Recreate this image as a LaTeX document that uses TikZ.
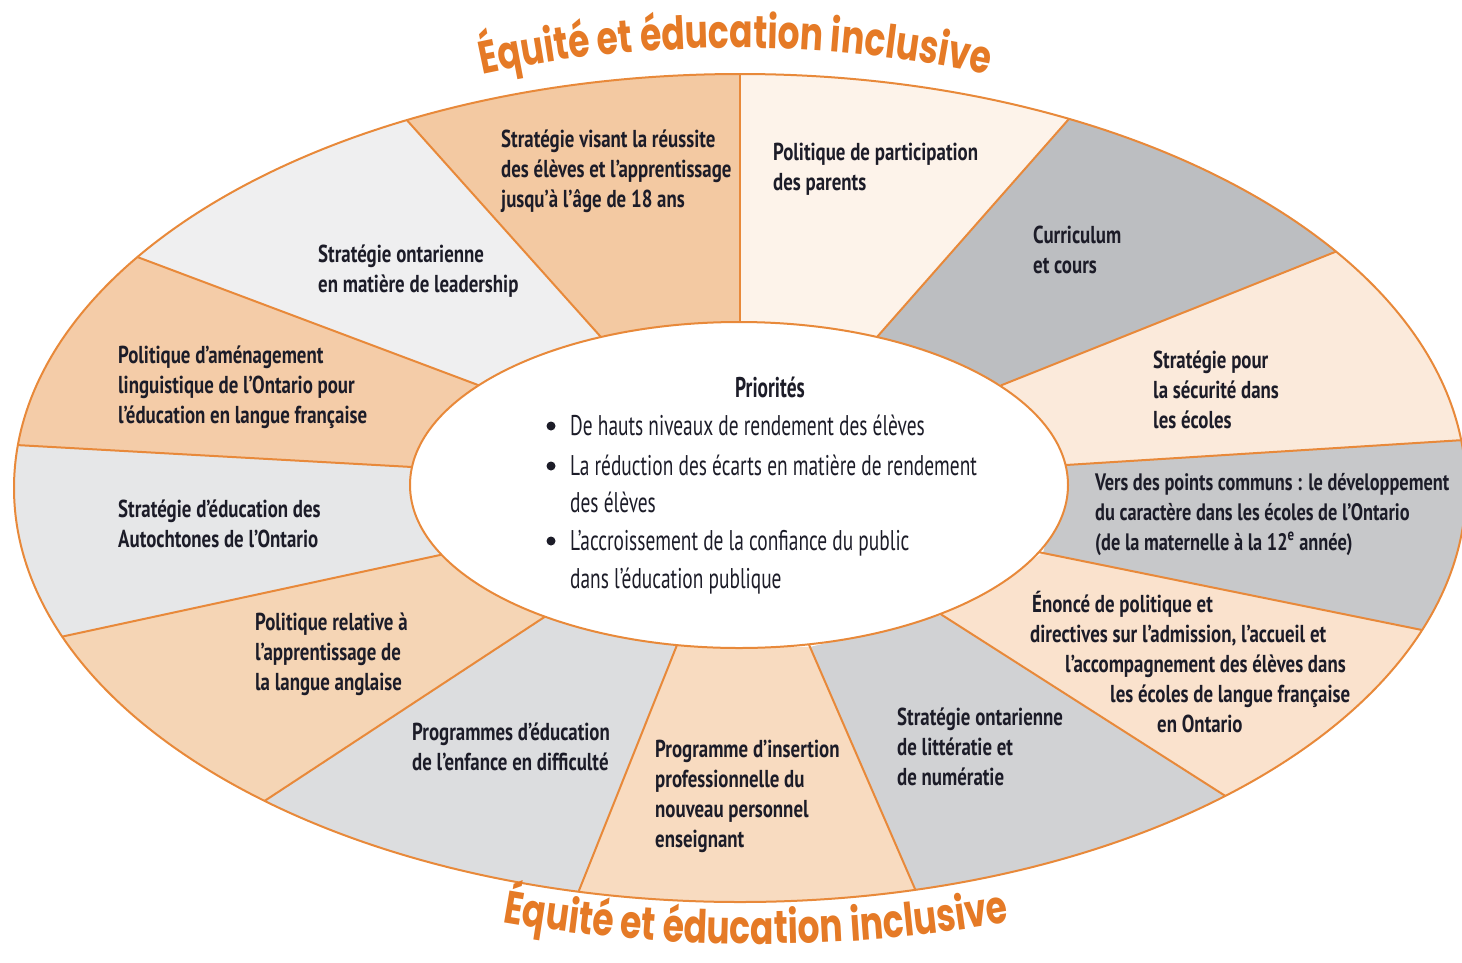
\documentclass[tikz,border=0pt]{standalone}
\usepackage{fontspec}
\setmainfont{PT Sans}
\newfontfamily\segf{PT Sans}[FakeStretch=0.77]
\newfontfamily\prif{PT Sans}[FakeStretch=0.68]
\newfontfamily\titf{Poppins}[FakeStretch=0.75]
\usetikzlibrary{calc,decorations.text}
\definecolor{lineor}{HTML}{E8893A}
\definecolor{titor}{HTML}{E57A26}
\definecolor{txt}{HTML}{1C1C28}
\definecolor{cA}{HTML}{FDF3EA}% parents
\definecolor{cB}{HTML}{BCBEC1}% curriculum
\definecolor{cC}{HTML}{FBEADB}% securite
\definecolor{cD}{HTML}{C7C8CA}% vers
\definecolor{cE}{HTML}{FAE2CD}% enonce
\definecolor{cF}{HTML}{D1D2D4}% litteratie
\definecolor{cG}{HTML}{F8DBC0}% insertion
\definecolor{cH}{HTML}{DCDDDF}% programmes
\definecolor{cI}{HTML}{F5D5B5}% anglaise
\definecolor{cJ}{HTML}{E6E7E8}% autochtones
\definecolor{cK}{HTML}{F4CCA8}% amenagement
\definecolor{cL}{HTML}{EFEFF0}% leadership
\definecolor{cM}{HTML}{F3C9A2}% visant
\tikzset{
  seg/.style={font=\segf\bfseries\fontsize{24.5}{30}\selectfont, text=txt, inner sep=0pt, anchor=base west},
  segs/.style={seg, font=\segf\bfseries\fontsize{23.8}{30}\selectfont},
  pri/.style={font=\prif\fontsize{28.5}{38}\selectfont, text=txt, inner sep=0pt, anchor=base west},
  bul/.style={circle, fill=txt, inner sep=0pt, minimum size=9pt},
  wheel/.style={draw=lineor, line width=2pt},
}
\newcommand\seglines[4]{\foreach \tx [count=\n] in {#4} {\node[seg] (#1-\n) at (#2,{#3+30*(\n-1)}) {\tx};}}
\begin{document}
\begin{tikzpicture}[x=1pt,y=-1pt]
\useasboundingbox (0,0) rectangle (1462,962);
\fill[white] (0,0) rectangle (1462,962);
% outer / inner points of the dividing lines
\coordinate (o1) at (740,75);   \coordinate (i1) at (740,322);
\coordinate (o2) at (1068,120); \coordinate (i2) at (877,337);
\coordinate (o3) at (1335,252); \coordinate (i3) at (1002,385);
\coordinate (o4) at (1464,440); \coordinate (i4) at (1066,465);
\coordinate (o5) at (1422,630); \coordinate (i5) at (1043,553);
\coordinate (o6) at (1227,797); \coordinate (i6) at (942,615);
\coordinate (o7) at (915,889);  \coordinate (i7) at (810,647);
\coordinate (o8) at (578,893);  \coordinate (i8) at (677,645);
\coordinate (o9) at (266,800);  \coordinate (i9) at (546,616);
\coordinate (o10) at (65,636);  \coordinate (i10) at (440,555);
\coordinate (o11) at (16,445);  \coordinate (i11) at (412,467);
\coordinate (o12) at (140,258); \coordinate (i12) at (478,385);
\coordinate (o13) at (405,118); \coordinate (i13) at (600,336);
\begin{scope}
  \clip (740,488) ellipse [x radius=726, y radius=414];
  \foreach \a/\b/\c in {1/2/cA,2/3/cB,3/4/cC,4/5/cD,5/6/cE,6/7/cF,7/8/cG,8/9/cH,9/10/cI,10/11/cJ,11/12/cK,12/13/cL,13/1/cM}
    {\fill[\c] (i\a) -- ($(i\a)!5!(o\a)$) -- ($(i\b)!5!(o\b)$) -- (i\b) -- cycle;}
  \foreach \k in {1,...,13}
    {\draw[wheel] ($(o\k)!1.06!(i\k)$) -- ($(i\k)!1.3!(o\k)$);}
\end{scope}
\draw[wheel] (740,488) ellipse [x radius=726, y radius=414];
\draw[wheel, fill=white] (739,485) ellipse [x radius=329, y radius=163];
% titles
\path[decorate, decoration={text along path, text align=center, text color=titor,
   text={|\titf\bfseries\fontsize{46}{46}\selectfont|Équité et éducation inclusive}}]
   (735,488) ++(240:740 and 440) arc[start angle=240, end angle=300, x radius=740, y radius=440];
\path[decorate, decoration={text along path, text align=center, text color=titor,
   text={|\titf\bfseries\fontsize{46}{46}\selectfont|Équité et éducation inclusive}}]
   (756,488) ++(120:830 and 456) arc[start angle=120, end angle=60, x radius=830, y radius=456];
% segment texts
\seglines{visant}{501}{147}{Stratégie visant la réussite, des élèves et l’apprentissage, jusqu’à l’âge de 18 ans}
\seglines{parents}{773}{160}{Politique de participation, des parents}
\seglines{curric}{1033}{243}{Curriculum, et cours}
\seglines{secur}{1153}{368}{Stratégie pour, la sécurité dans, les écoles}
\node[segs] (vers-1) at (1095,490) {Vers des points communs : le développement};
\node[segs] (vers-2) at (1095,520) {du caractère dans les écoles de l’Ontario};
\node[segs] (vers-3) at (1095,550) {(de la maternelle à la 12\textsuperscript{e} année)};
\node[seg] (enonce-1) at (1032,612) {Énoncé de politique et};
\node[seg] (enonce-2) at (1030,642) {directives sur l’admission, l’accueil et};
\node[seg] (enonce-3) at (1065,672) {l’accompagnement des élèves dans};
\node[seg] (enonce-4) at (1110,702) {les écoles de langue française};
\node[seg] (enonce-5) at (1157,732) {en Ontario};
\seglines{litter}{897}{725}{Stratégie ontarienne, de littératie et, de numératie}
\seglines{insert}{655}{757}{Programme d’insertion, professionnelle du, nouveau personnel, enseignant}
\seglines{progr}{412}{740}{Programmes d’éducation, de l’enfance en difficulté}
\seglines{angl}{255}{630}{Politique relative à, l’apprentissage de, la langue anglaise}
\seglines{autoch}{118}{517}{Stratégie d’éducation des, Autochtones de l’Ontario}
\seglines{amen}{118}{363}{Politique d’aménagement, linguistique de l’Ontario pour, l’éducation en langue française}
\seglines{lead}{318}{262}{Stratégie ontarienne, en matière de leadership}
% priorities
\node[pri, font=\prif\bfseries\fontsize{28.5}{38}\selectfont, anchor=base] (prio) at (770,397) {Priorités};
\node[bul] (b1) at (551,426) {};
\node[bul] (b2) at (551,466) {};
\node[bul] (b3) at (551,541) {};
\node[pri] (p1) at (570,435) {De hauts niveaux de rendement des élèves};
\node[pri] (p2) at (570,475) {La réduction des écarts en matière de rendement};
\node[pri] (p2b) at (570,512) {des élèves};
\node[pri] (p3) at (570,550) {L’accroissement de la confiance du public};
\node[pri] (p3b) at (570,588) {dans l’éducation publique};
\end{tikzpicture}
\end{document}
